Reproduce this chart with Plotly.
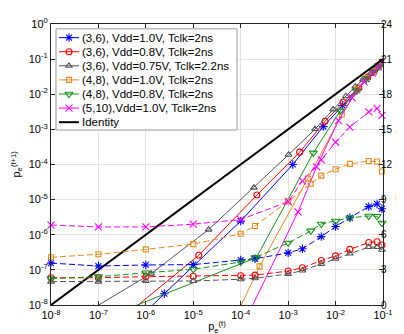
import math
import plotly.graph_objects as go

# =========================
# DATA
# =========================
labels = [
    "(3,6), Vdd=1.0V, Tclk=2ns",
    "(3,6), Vdd=0.8V, Tclk=2ns",
    "(3,6), Vdd=0.75V, Tclk=2.2ns",
    "(4,8), Vdd=1.0V, Tclk=2ns",
    "(4,8), Vdd=0.8V, Tclk=2ns",
    "(5,10),Vdd=1.0V, Tclk=2ns",
]

# solid curves: p_e^(t) -> p_e^(t+1)
blue_x = [2.1e-8, 2.45e-6, 1.0e-4, 1.25e-3, 5.5e-3, 1.4e-2, 2.8e-2, 4.5e-2, 6.4e-2, 8.2e-2, 1.0e-1]
blue_y = [4.0e-11, 2.1e-8, 2.45e-6, 1.0e-4, 1.2e-3, 4.8e-3, 1.3e-2, 2.7e-2, 4.4e-2, 6.3e-2, 8.1e-2]

red_x = [2.6e-7, 1.3e-5, 2.2e-4, 1.75e-3, 6.0e-3, 1.45e-2, 3.1e-2, 4.8e-2, 6.6e-2, 8.3e-2, 1.0e-1]
red_y = [3.4e-9, 2.6e-7, 1.35e-5, 2.25e-4, 1.7e-3, 6.0e-3, 1.5e-2, 3.1e-2, 4.8e-2, 6.6e-2, 8.3e-2]

gray_x = [7.8e-8, 1.29e-6, 2.1e-5, 1.9e-4, 1.02e-3, 3.7e-3, 8.9e-3, 1.65e-2, 2.6e-2, 3.8e-2, 5.4e-2, 7.0e-2, 8.5e-2, 1.0e-1]
gray_y = [8.1e-9, 7.8e-8, 1.4e-6, 2.2e-5, 1.9e-4, 1.02e-3, 3.7e-3, 8.9e-3, 1.65e-2, 2.6e-2, 3.8e-2, 5.4e-2, 7.0e-2, 8.5e-2]

orange_x = [3.2e-5, 2.5e-4, 2.6e-3, 1.35e-2, 2.9e-2, 4.5e-2, 6.3e-2, 8.1e-2, 1.0e-1]
orange_y = [3.6e-10, 1.26e-7, 4.0e-5, 2.6e-3, 1.35e-2, 2.9e-2, 4.5e-2, 6.3e-2, 8.1e-2]

green_x = [2.24e-7, 2.14e-4, 3.4e-3, 1.26e-2, 2.8e-2, 4.4e-2, 6.2e-2, 8.0e-2, 1.0e-1]
green_y = [5.6e-9, 2.24e-7, 2.14e-4, 3.4e-3, 1.26e-2, 2.8e-2, 4.4e-2, 6.2e-2, 8.0e-2]

magenta_x = [1.0e-4, 1.62e-3, 3.98e-3, 1.15e-2, 2.24e-2, 3.98e-2, 6.0e-2, 7.9e-2, 1.0e-1]
magenta_y = [2.0e-9, 4.47e-6, 8.5e-5, 1.78e-3, 7.9e-3, 2.24e-2, 3.98e-2, 6.0e-2, 7.9e-2]

identity_x = [1e-8, 1e-1]
identity_y = [1e-8, 1e-1]

# dashed curves: energy per iteration (pJ)
pe_36 = [1e-8, 1e-7, 1e-6, 1e-5, 1e-4, 2e-4, 1e-3, 2e-3, 5e-3, 1e-2, 2e-2, 5e-2, 7.5e-2, 9.5e-2]
pe_48 = [1e-8, 1e-7, 1e-6, 1e-5, 1e-4, 2e-4, 1e-3, 3e-3, 5e-3, 1e-2, 2e-2, 5e-2, 7.5e-2, 9.5e-2]
pe_510 = [1e-8, 1e-7, 1e-6, 1e-5, 1e-4, 1e-3, 2e-3, 5e-3, 1e-2, 2e-2, 5e-2, 7.5e-2, 9.5e-2]

blue_e = [3.58, 3.33, 3.42, 3.45, 3.84, 3.95, 4.45, 4.8, 5.84, 6.7, 7.45, 8.4, 8.63, 8.22]
red_e = [2.33, 2.33, 2.42, 2.45, 2.5, 2.55, 2.9, 3.18, 3.8, 4.2, 4.75, 5.34, 5.4, 5.12]
gray_e = [2.0, 2.0, 2.05, 2.05, 2.2, 2.28, 2.65, 2.95, 3.5, 3.95, 4.4, 4.95, 4.95, 4.72]
orange_e = [4.08, 4.33, 4.75, 5.2, 6.08, 6.75, 8.85, 10.35, 11.05, 11.6, 12.05, 12.3, 12.25, 11.4]
green_e = [2.25, 2.42, 2.75, 3.05, 3.67, 4.05, 5.3, 6.33, 6.92, 7.17, 7.45, 7.6, 7.58, 7.0]
magenta_e = [6.83, 6.67, 6.67, 6.9, 7.3, 8.82, 10.6, 12.4, 13.9, 15.2, 16.5, 16.8, 16.2]

x_ticks = [1e-8, 1e-7, 1e-6, 1e-5, 1e-4, 1e-3, 1e-2, 1e-1]
y_ticks = [1e-8, 1e-7, 1e-6, 1e-5, 1e-4, 1e-3, 1e-2, 1e-1, 1e0]
e_ticks = [0, 3, 6, 9, 12, 15, 18, 21, 24]

# =========================
# STYLE
# =========================
FONT = "Liberation Sans, Arial, sans-serif"
series = [
    (blue_x, blue_y, pe_36, blue_e, "#0000ff", "asterisk-open", 7),
    (red_x, red_y, pe_36, red_e, "#ff0000", "circle-open", 6),
    (gray_x, gray_y, pe_36, gray_e, "#555555", "triangle-up-open", 6),
    (orange_x, orange_y, pe_48, orange_e, "#e8891c", "square-open", 5),
    (green_x, green_y, pe_48, green_e, "#16901a", "triangle-down-open", 7),
    (magenta_x, magenta_y, pe_510, magenta_e, "#ff00ff", "x-thin-open", 7),
]


def pow_label(v):
    return f"10<sup>{int(round(math.log10(v)))}</sup>"


fig = go.Figure()

# energy (right axis, dashed)
for sx, sy, ex, ey, col, sym, ms in series:
    fig.add_trace(go.Scatter(
        x=ex, y=ey, yaxis="y2", mode="lines+markers",
        line=dict(color=col, width=1, dash="6px,3px"),
        marker=dict(symbol=sym, size=ms, color=col, line=dict(color=col, width=1.1)),
        cliponaxis=False, showlegend=False,
    ))

# density evolution (left axis, solid)
for sx, sy, ex, ey, col, sym, ms in series:
    fig.add_trace(go.Scatter(
        x=sx, y=sy, mode="lines+markers",
        line=dict(color=col, width=1),
        marker=dict(symbol=sym, size=ms, color=col, line=dict(color=col, width=1.1)),
        showlegend=False,
    ))

fig.add_trace(go.Scatter(
    x=identity_x, y=identity_y, mode="lines",
    line=dict(color="black", width=2), showlegend=False,
))

# =========================
# LEGEND (drawn by hand, pixel units of plot area)
# =========================
row0, row_h = 22, 14.5
box_y = [13, 13, 117, 117, 13]
box_x = [48, 229, 229, 48, 48]
fig.add_trace(go.Scatter(
    x=box_x, y=box_y, xaxis="x2", yaxis="y3", mode="lines",
    fill="toself", fillcolor="white", line=dict(color="#9a9a9a", width=1),
    showlegend=False, hoverinfo="skip",
))
entries = [(s[4], s[5], s[6]) for s in series] + [("black", None, 0)]
all_labels = labels + ["Identity"]
for i, (col, sym, ms) in enumerate(entries):
    ry = row0 + i * row_h
    fig.add_trace(go.Scatter(
        x=[51, 71], y=[ry, ry], xaxis="x2", yaxis="y3", mode="lines",
        line=dict(color=col, width=2 if sym is None else 1),
        showlegend=False, hoverinfo="skip",
    ))
    if sym:
        fig.add_trace(go.Scatter(
            x=[61], y=[ry], xaxis="x2", yaxis="y3", mode="markers",
            marker=dict(symbol=sym, size=ms, color=col, line=dict(color=col, width=1.1)),
            showlegend=False, hoverinfo="skip",
        ))
    fig.add_annotation(
        x=72, y=ry, xref="x2", yref="y3", text=all_labels[i],
        showarrow=False, xanchor="left", yanchor="middle",
        font=dict(family=FONT, size=11.5, color="black"),
    )

# axis titles (left and right)
fig.add_annotation(
    x=-35 / 332, y=0.5, xref="paper", yref="paper", textangle=-90,
    text="p<sub>e</sub><sup>(t+1)</sup>", showarrow=False,
    xanchor="center", yanchor="middle", font=dict(family=FONT, size=11),
)
fig.add_annotation(
    x=1 + 17 / 332, y=0.5, xref="paper", yref="paper", textangle=-90,
    text="Energy / iter (pJ)", showarrow=False, borderpad=0,
    xanchor="center", yanchor="middle", font=dict(family=FONT, size=10),
)

axis_common = dict(
    showline=True, linecolor="#262626", linewidth=1,
    ticks="inside", ticklen=4, tickcolor="#262626",
    tickfont=dict(family=FONT, size=11, color="black"),
)

fig.update_layout(
    width=404, height=334,
    margin=dict(l=43, r=29, t=8, b=37),
    paper_bgcolor="white", plot_bgcolor="white",
    font=dict(family=FONT, size=11, color="black"),
    xaxis=dict(
        type="log", range=[-8, -1], tickvals=x_ticks,
        ticktext=[pow_label(v) for v in x_ticks],
        showgrid=True, gridcolor="#e3e3e3", mirror="ticks",
        title=dict(text="p<sub>e</sub><sup>(t)</sup>", standoff=2, font=dict(size=11)),
        **axis_common,
    ),
    yaxis=dict(
        type="log", range=[-8, 0], tickvals=y_ticks,
        ticktext=[pow_label(v) for v in y_ticks],
        showgrid=True, gridcolor="#e3e3e3",
        **axis_common,
    ),
    yaxis2=dict(
        overlaying="y", side="right", range=[0, 24], tickvals=e_ticks,
        showgrid=False, zeroline=False, ticklabelstandoff=-5,
        automargin=False,
        **{**axis_common, "tickfont": dict(family=FONT, size=10, color="black")},
    ),
    xaxis2=dict(overlaying="x", anchor="y3", range=[43, 375], visible=False),
    yaxis3=dict(overlaying="y", anchor="x2", range=[297, 8], visible=False),
)

fig.write_html("out.html")
